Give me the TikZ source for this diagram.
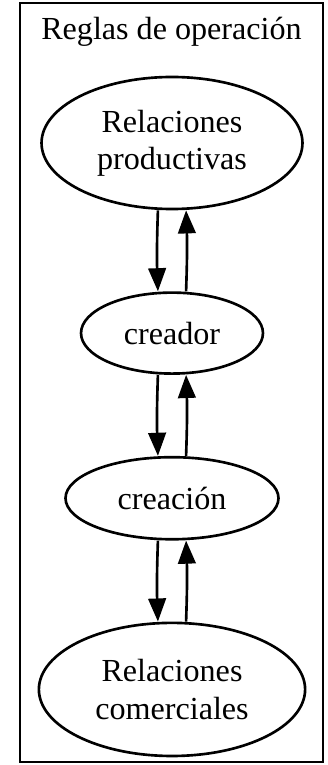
\documentclass[tikz,border=0pt]{standalone}
\usepackage{fontspec}
\setmainfont{Liberation Serif}
\usetikzlibrary{arrows.meta, positioning, shapes.geometric}

\begin{document}
\begin{tikzpicture}[x=0.4545pt, y=-0.4545pt,
    node distance=36.8pt,
oval/.style = {ellipse, draw, line width=1.2pt, inner sep=0pt, align=center},
sx-/.style = {xshift=-6.4pt},
sx+/.style = {xshift= 6.4pt},
link/.style = {line width=1.2pt, -{Triangle[length=10.5pt, width=8pt]}},
     font = \fontsize{14.6pt}{17pt}\selectfont
                        ]
\useasboundingbox (0,0) rectangle (327,765);
\draw[line width=1.2pt] (20,3) rectangle (323,762);
\node (title) [anchor=base] at (171.5,40) {Reglas de operación};
%
\node (n1) [oval, minimum width=118.6pt, minimum height=60pt] at (172,143) {Relaciones\\productivas};
\node (n2) [oval, minimum width=82.7pt, minimum height=36.8pt, below=of n1] {creador};
\node (n3) [oval, minimum width=96.8pt, minimum height=37.3pt, below=of n2] {creación};
\node (n4) [oval, minimum width=121pt, minimum height=60.5pt, below=of n3] {Relaciones\\comerciales};
%
\foreach \a/\b in {n1/n2, n2/n3, n3/n4}
{
\draw[link] ([sx-] \a.south) to [bend right=2] ([sx-] \b.north);
\draw[link] ([sx+] \b.north) to [bend right=2] ([sx+] \a.south);
}
\end{tikzpicture}
\end{document}
